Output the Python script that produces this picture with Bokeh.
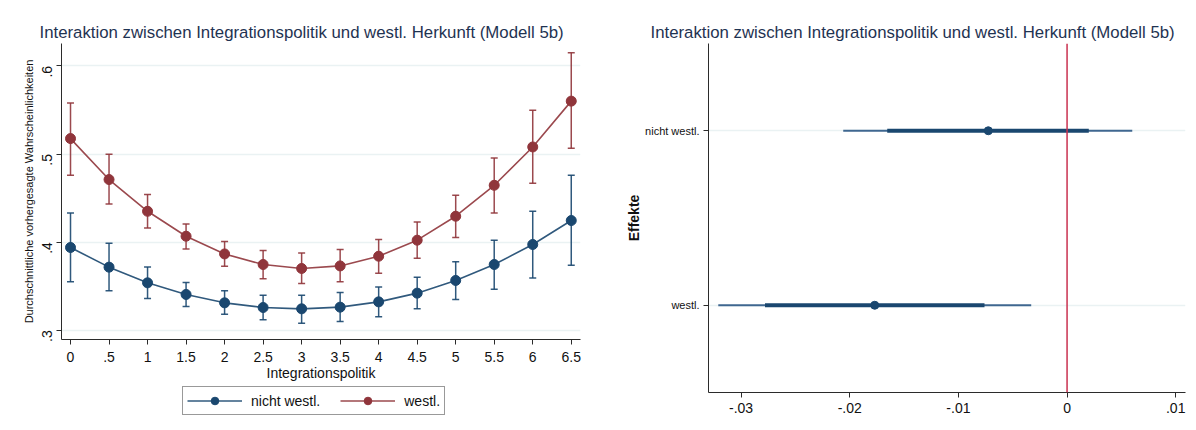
import math
from bokeh.plotting import figure
from bokeh.models import (ColumnDataSource, Whisker, TeeHead, Legend, LegendItem,
                          FixedTicker, Range1d, FactorRange, Span)
from bokeh.layouts import row, column
from bokeh.embed import file_html
from bokeh.resources import INLINE

# ---------------- data: left panel ----------------
policy = [0, 0.5, 1, 1.5, 2, 2.5, 3, 3.5, 4, 4.5, 5, 5.5, 6, 6.5]

nw_mean = [.3939, .3716, .3538, .3406, .3311, .3258, .3243, .3262, .3322, .3421, .3565, .3746, .3973, .4245]
nw_hi   = [.4331, .3988, .3719, .3542, .3447, .3398, .3398, .3429, .3492, .3602, .3776, .4022, .4350, .4758]
nw_lo   = [.3549, .3447, .3360, .3270, .3182, .3118, .3080, .3100, .3152, .3243, .3350, .3466, .3594, .3738]

w_mean = [.5175, .4710, .4350, .4067, .3866, .3746, .3701, .3730, .3840, .4022, .4294, .4645, .5080, .5600]
w_hi   = [.5580, .4997, .4540, .4207, .4007, .3905, .3878, .3916, .4030, .4229, .4532, .4955, .5496, .6150]
w_lo   = [.4760, .4433, .4160, .3923, .3727, .3583, .3530, .3550, .3647, .3817, .4052, .4331, .4668, .5065]

series_labels = ["nicht westl.", "westl."]
x_ticks_left = [0, 0.5, 1, 1.5, 2, 2.5, 3, 3.5, 4, 4.5, 5, 5.5, 6, 6.5]
x_tick_labels_left = ["0", ".5", "1", "1.5", "2", "2.5", "3", "3.5", "4", "4.5", "5", "5.5", "6", "6.5"]
y_ticks_left = [0.3, 0.4, 0.5, 0.6]
y_tick_labels_left = [".3", ".4", ".5", ".6"]

# ---------------- data: right panel ----------------
groups = ["nicht westl.", "westl."]
coef = [-0.00725, -0.0177]
thick_lo = [-0.01655, -0.0278]
thick_hi = [0.0020, -0.0076]
thin_lo = [-0.0206, -0.0321]
thin_hi = [0.0060, -0.0033]
x_ticks_right = [-0.03, -0.02, -0.01, 0.0, 0.01]
x_tick_labels_right = ["-.03", "-.02", "-.01", "0", ".01"]

TITLE = "Interaktion zwischen Integrationspolitik und westl. Herkunft (Modell 5b)"

FONT = "Liberation Sans"
NAVY = "#1a476f"
MAROON = "#90353b"
GRID = "#eaf2f3"
TITLE_COLOR = "#1f3352"
AXIS = "#2b2b2b"
TEXT = "#111111"


def style_axes(p):
    for ax in (p.xaxis, p.yaxis):
        ax.axis_line_color = AXIS
        ax.major_tick_line_color = AXIS
        ax.minor_tick_line_color = None
        ax.major_tick_in = 0
        ax.major_tick_out = 5
        ax.major_label_text_font = FONT
        ax.major_label_text_color = TEXT
        ax.axis_label_text_font = FONT
        ax.axis_label_text_color = TEXT
        ax.axis_label_text_font_style = "normal"


def style_title(p, offset):
    p.title.text = TITLE
    p.title.text_font = FONT
    p.title.text_font_size = "16.8px"
    p.title.text_font_style = "normal"
    p.title.text_color = TITLE_COLOR
    p.title.align = "left"
    p.title.offset = offset
    p.title.standoff = 3


# ---------------- left figure ----------------
p1 = figure(width=600, height=383, output_backend="svg", toolbar_location=None,
            x_range=Range1d(-0.117, 6.62), y_range=Range1d(0.2895, 0.6254),
            min_border_left=61, min_border_right=20, min_border_top=43, min_border_bottom=44)
p1.outline_line_color = None
style_title(p1, -22)
style_axes(p1)
p1.xgrid.visible = False
p1.ygrid.grid_line_color = GRID
p1.ygrid.grid_line_width = 1.5
p1.xaxis.ticker = FixedTicker(ticks=x_ticks_left)
p1.xaxis.major_label_overrides = {t: l for t, l in zip(x_ticks_left, x_tick_labels_left)}
p1.yaxis.ticker = FixedTicker(ticks=y_ticks_left)
p1.yaxis.major_label_overrides = {t: l for t, l in zip(y_ticks_left, y_tick_labels_left)}
p1.yaxis.major_label_orientation = math.pi / 2
p1.xaxis.major_label_text_font_size = "14px"
p1.yaxis.major_label_text_font_size = "14px"
p1.xaxis.major_label_standoff = 7
p1.yaxis.major_label_standoff = 9
p1.xaxis.axis_label = "Integrationspolitik"
p1.xaxis.axis_label_text_font_size = "14px"
p1.xaxis.axis_label_standoff = 0
p1.yaxis.axis_label = "Durchschnittliche vorhergesagte Wahrscheinlichkeiten"
p1.yaxis.axis_label_text_font_size = "11px"
p1.yaxis.axis_label_standoff = 0

for lab, mean, lo, hi, col in ((series_labels[0], nw_mean, nw_lo, nw_hi, NAVY),
                               (series_labels[1], w_mean, w_lo, w_hi, MAROON)):
    src = ColumnDataSource(dict(x=policy, y=mean, lo=lo, hi=hi))
    wh = Whisker(source=src, base="x", upper="hi", lower="lo",
                 line_color=col, line_width=1.5, line_alpha=0.9,
                 upper_head=TeeHead(size=7, line_color=col, line_width=1.5, line_alpha=0.9),
                 lower_head=TeeHead(size=7, line_color=col, line_width=1.5, line_alpha=0.9))
    p1.add_layout(wh)
    p1.line("x", "y", source=src, line_color=col, line_width=1.6, line_alpha=0.9)
    p1.scatter("x", "y", source=src, size=10, fill_color=col, line_color=col)

# ---------------- legend strip under the left figure ----------------
# the series are re-drawn here outside the visible y range, only so that the
# legend has renderers to take its glyphs from
leg = figure(width=600, height=47, output_backend="svg", toolbar_location=None,
             x_range=Range1d(0, 1), y_range=Range1d(10, 11),
             x_axis_type=None, y_axis_type=None, min_border=0)
leg.outline_line_color = None
leg.grid.visible = False
legend_items = []
for lab, mean, col in ((series_labels[0], nw_mean, NAVY), (series_labels[1], w_mean, MAROON)):
    ln = leg.line(x=policy, y=mean, line_color=col, line_width=1.6, line_alpha=0.9)
    sc = leg.scatter(x=policy, y=mean, size=10, fill_color=col, line_color=col)
    legend_items.append(LegendItem(label=lab, renderers=[ln, sc]))
legend = Legend(items=legend_items, location=(182, 15), orientation="horizontal",
                padding=4, margin=0, spacing=20, glyph_width=55, glyph_height=19,
                label_height=19, label_standoff=9, label_text_font=FONT,
                label_text_font_size="14px", label_text_color=TEXT,
                border_line_color="#333333", border_line_width=1,
                background_fill_color="white", background_fill_alpha=1)
leg.add_layout(legend)

# ---------------- right figure ----------------
p2 = figure(width=596, height=430, output_backend="svg", toolbar_location=None,
            x_range=Range1d(-0.0330, 0.0109),
            y_range=FactorRange(factors=list(reversed(groups))),
            min_border_left=108, min_border_right=11, min_border_top=43, min_border_bottom=38)
p2.outline_line_color = None
style_title(p2, -58)
style_axes(p2)
p2.xgrid.visible = False
p2.ygrid.grid_line_color = GRID
p2.ygrid.grid_line_width = 1.5
p2.xaxis.ticker = FixedTicker(ticks=x_ticks_right)
p2.xaxis.major_label_overrides = {t: l for t, l in zip(x_ticks_right, x_tick_labels_right)}
p2.xaxis.major_label_text_font_size = "14px"
p2.xaxis.major_label_standoff = 5
p2.yaxis.major_label_text_font_size = "11px"
p2.yaxis.major_label_standoff = 4
p2.yaxis.axis_label = "Effekte"
p2.yaxis.axis_label_text_font_size = "14px"
p2.yaxis.axis_label_text_font_style = "bold"
p2.yaxis.axis_label_standoff = 0

src2 = ColumnDataSource(dict(g=groups, c=coef, tlo=thick_lo, thi=thick_hi, nlo=thin_lo, nhi=thin_hi))
p2.segment(x0="nlo", y0="g", x1="nhi", y1="g", source=src2,
           line_color="#3f6790", line_width=2)
p2.segment(x0="tlo", y0="g", x1="thi", y1="g", source=src2,
           line_color=NAVY, line_width=4)
p2.add_layout(Span(location=0, dimension="height", line_color="#c9304f", line_width=1.5))
p2.scatter("c", "g", source=src2, size=8, fill_color=NAVY, line_color=NAVY)

layout = row(column(column(p1), column(leg)), column(p2))
open("out.html", "w").write(file_html(layout, INLINE))
